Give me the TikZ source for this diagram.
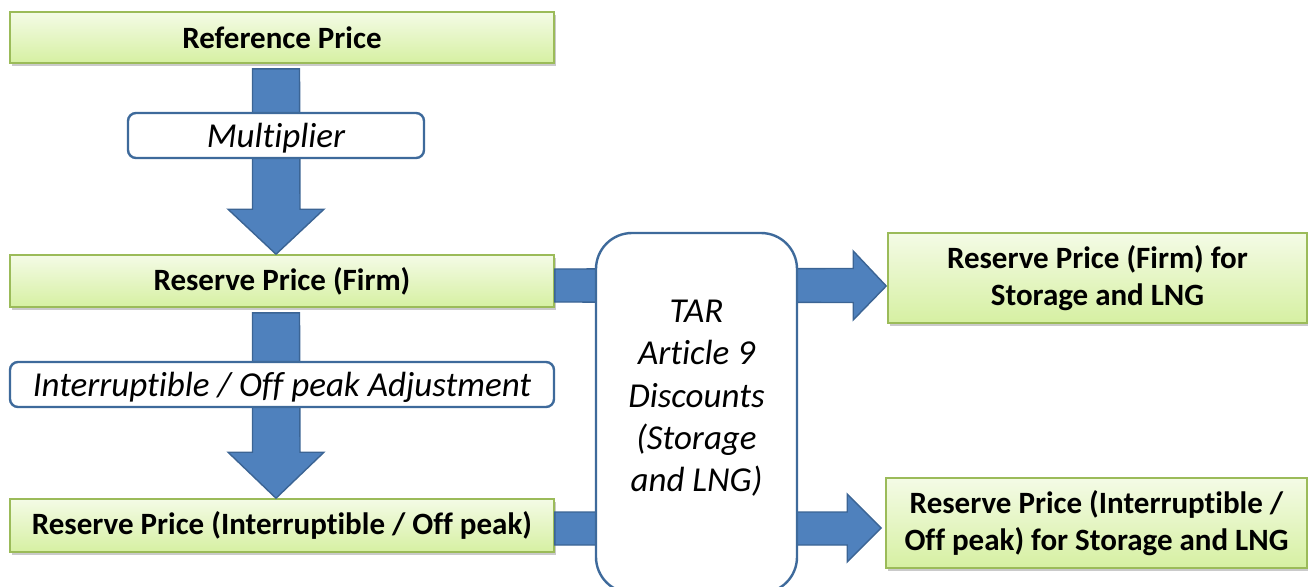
\documentclass[tikz,border=0pt]{standalone}
\usepackage{fontspec}
\setmainfont{Carlito}[Ligatures=NoCommon]
\usetikzlibrary{calc,shadows}
\definecolor{gfill1}{HTML}{F4FBE6}
\definecolor{gfill2}{HTML}{D6F0A2}
\definecolor{gborder}{HTML}{9BBB59}
\definecolor{afill}{HTML}{4F81BD}
\definecolor{aborder}{HTML}{3B6494}
\definecolor{bborder}{HTML}{3E6A9B}
\tikzset{
  x=1pt,y=1pt,
  greenbox/.style={draw=gborder,line width=1.6pt,top color=gfill1,bottom color=gfill2,
    inner sep=0pt,align=center,font=\bfseries\fontsize{31}{37}\selectfont,
    drop shadow={shadow xshift=2pt,shadow yshift=-3pt,opacity=0.35,fill=black!60}},
  labelbox/.style={draw=bborder,line width=2.4pt,fill=white,rounded corners=8pt,
    inner sep=0pt,align=center,font=\itshape\fontsize{35}{42}\selectfont,
    text height=31pt,text depth=8pt},
  tarbox/.style={draw=bborder,line width=2.4pt,fill=white,rounded corners=36pt,
    inner sep=0pt,align=center,font=\itshape\fontsize{35}{42.3}\selectfont},
  blockarrow/.style={fill=afill,draw=aborder,line width=1.4pt,line join=miter},
}
\begin{document}
\begin{tikzpicture}
\useasboundingbox (0,0) rectangle (1308,-586);
% green boxes
\node[greenbox,minimum width=544,minimum height=51] (ref) at (282,-37.5) {Reference Price};
\node[greenbox,minimum width=544,minimum height=52] (firm) at (282,-281) {Reserve Price (Firm)};
\node[greenbox,minimum width=544,minimum height=53] (intp) at (282,-525.5) {Reserve Price (Interruptible / Off peak)};
\node[greenbox,minimum width=419,minimum height=90] (sfirm) at (1097.5,-278) {Reserve Price (Firm) for\\Storage and LNG};
\node[greenbox,minimum width=421,minimum height=90] (sint) at (1096.5,-523) {Reserve Price (Interruptible /\\Off peak) for Storage and LNG};
% vertical arrows
\draw[blockarrow] ($(ref.south)+(-29.5,-5)$) -- ++(47,0) -- ($(firm.north)+(18,45)$) -- ++(24,0)
  -- ($(firm.north)+(-6,0)$) -- ($(firm.north)+(-54,45)$) -- ++(24.5,0) -- cycle;
\draw[blockarrow] ($(firm.south)+(-29.5,-5)$) -- ++(47,0) -- ($(intp.north)+(18,46)$) -- ++(24,0)
  -- ($(intp.north)+(-6,0)$) -- ($(intp.north)+(-54,46)$) -- ++(24.5,0) -- cycle;
% horizontal arrows
\draw[blockarrow] ($(firm.east)+(0,-4.5)$) -- ++(0,16.5) -- ($(sfirm.west)+(-34,9.5)$) -- ++(0,17.5)
  -- ($(sfirm.west)+(-1,-8)$) -- ($(sfirm.west)+(-34,-42)$) -- ++(0,17.5) -- ($(firm.east)+(0,-21)$) -- cycle;
\draw[blockarrow] ($(intp.east)+(0,13.5)$) -- ($(sint.west)+(-38,11)$) -- ++(0,18)
  -- ($(sint.west)+(-4,-5)$) -- ($(sint.west)+(-38,-39)$) -- ++(0,17) -- ($(intp.east)+(0,-19.5)$) -- cycle;
% label boxes
\node[labelbox,minimum width=296,minimum height=45] (mult) at (276,-135.5) {Multiplier};
\node[labelbox,minimum width=544,minimum height=45] (adj) at (282,-384.5) {Interruptible / Off peak Adjustment};
\node[tarbox,minimum width=201,minimum height=360,text depth=34pt] (tar) at (696.5,-413) {TAR\\Article 9\\Discounts\\(Storage\\and LNG)};
\end{tikzpicture}
\end{document}
